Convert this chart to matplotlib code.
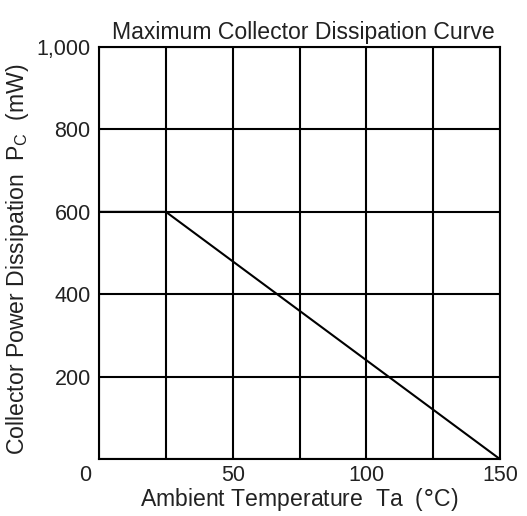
import matplotlib.pyplot as plt

# derating curve: flat at 600 mW up to 25 C, then linear down to 0 at 150 C
temp_c = [0, 25, 150]
power_mw = [600, 600, 0]

x_ticks = [0, 25, 50, 75, 100, 125, 150]
x_labels = ["", "", "50", "", "100", "", "150"]
y_ticks = [0, 200, 400, 600, 800, 1000]
y_labels = ["", "200", "400", "600", "800", "1,000"]

plt.rcParams['font.family'] = ['Liberation Sans', 'DejaVu Sans']
txt = '#222222'

fig = plt.figure(figsize=(5.27, 5.16), dpi=100)
ax = fig.add_axes([0.188, 0.110, 0.761, 0.799])

ax.plot(temp_c, power_mw, color='black', lw=1.5, solid_capstyle='butt')

ax.set_xlim(0, 150)
ax.set_ylim(0, 1000)
ax.set_xticks(x_ticks)
ax.set_xticklabels(x_labels)
ax.set_yticks(y_ticks)
ax.set_yticklabels(y_labels)
ax.tick_params(length=0, labelsize=15.5, labelcolor=txt)
ax.tick_params(axis='x', pad=4)
ax.tick_params(axis='y', pad=6)
ax.grid(True, color='black', lw=1.5)
for s in ax.spines.values():
    s.set_linewidth(1.5)

# origin label sits left of the corner
ax.annotate("0", xy=(0, 0), xytext=(-14, -6), textcoords='offset pixels',
            ha='center', va='top', fontsize=15.5, color=txt)

ax.set_title("Maximum Collector Dissipation Curve", fontsize=16.6, color=txt,
             pad=6, x=0.51)
ax.set_xlabel(r"Ambient Temperature  Ta  ($\degree$C)", fontsize=16.6, color=txt,
              labelpad=0)
ax.set_ylabel(r"Collector Power Dissipation  P$_\mathregular{C}$  (mW)", fontsize=16.6,
              color=txt)
ax.yaxis.set_label_coords(-0.17, 0.485)

fig.savefig("out.png", dpi=100)
